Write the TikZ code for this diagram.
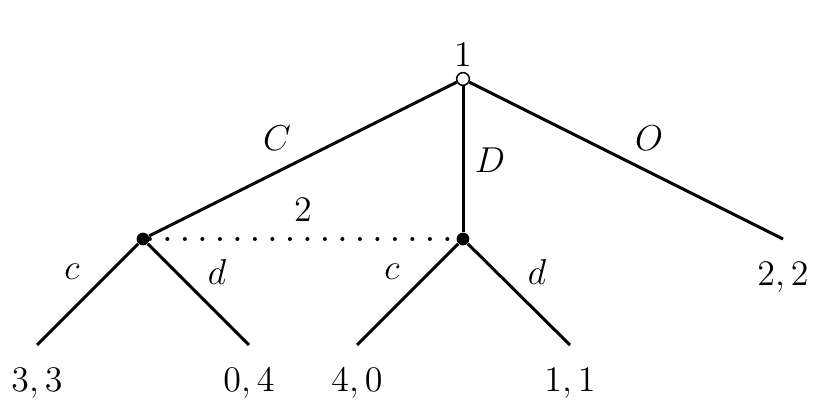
\documentclass[tikz,border=0pt]{standalone}
\usetikzlibrary{positioning}
\tikzset{
  solid node/.style={circle,fill=black,inner sep=1.8pt},
  hollow node/.style={circle,draw=black,fill=white,line width=0.6pt,inner sep=1.8pt},
  branch/.style={line width=1.2pt},
  payoff/.style={below=9pt,inner sep=0pt}
}
\begin{document}
\begin{tikzpicture}[x=0.4pt,y=-0.4pt,font=\Large]
  \useasboundingbox (0,0) rectangle (820,411);
  % decision nodes
  \node[hollow node] (root) at (463,79) {};
  \node[solid node] (p2a) at (143,239) {};
  \node[solid node] (p2b) at (463,239) {};
  % terminal points
  \coordinate (t1) at (37,345);
  \coordinate (t2) at (249,345);
  \coordinate (t3) at (357,345);
  \coordinate (t4) at (570,345);
  \coordinate (t5) at (783,239);
  \node[above=2pt,inner sep=0pt] (lab1) at (root.north) {$1$};
  % labels
  \node (lC) at (277,138) {$C$};
  \node (lD) at (490,160) {$D$};
  \node (lO) at (649,138) {$O$};
  \node (lc1) at (72,272) {$c$};
  \node (ld1) at (217,272) {$d$};
  \node (lc2) at (392,272) {$c$};
  \node (ld2) at (537,272) {$d$};
  % branches
  \draw[branch] (root) -- (p2a);
  \draw[branch] (root) -- (p2b);
  \draw[branch] (root) -- (t5);
  \draw[branch] (p2a) -- (t1);
  \draw[branch] (p2a) -- (t2);
  \draw[branch] (p2b) -- (t3);
  \draw[branch] (p2b) -- (t4);
  % information set
  \draw[line width=1.6pt,dash pattern=on 0pt off 7pt,line cap=round]
    (p2a) -- node[above=3pt,pos=0.5] (lab2) {$2$} (p2b);
  % payoffs
  \node[payoff] (u1) at (t1) {$3,3$};
  \node[payoff] (u2) at (t2) {$0,4$};
  \node[payoff] (u3) at (t3) {$4,0$};
  \node[payoff] (u4) at (t4) {$1,1$};
  \node[payoff] (u5) at (t5) {$2,2$};
\end{tikzpicture}
\end{document}
